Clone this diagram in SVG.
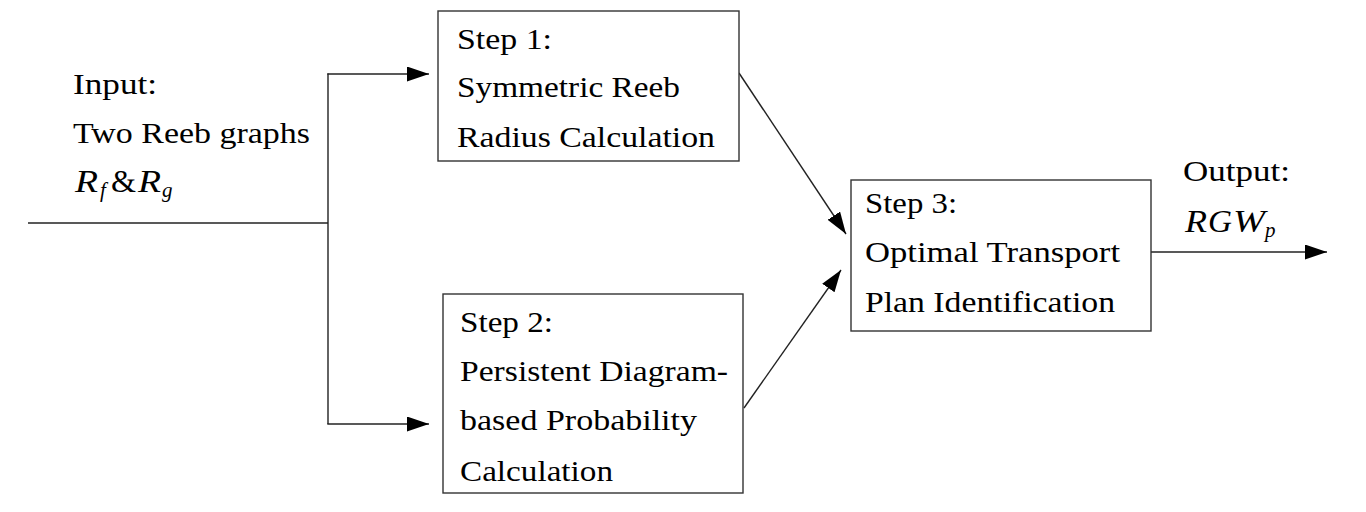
<svg xmlns="http://www.w3.org/2000/svg" width="1366" height="512" viewBox="0 0 1366 512">
<style>
  .t { font-family: "Liberation Serif", "Times New Roman", serif; font-size: 28.5px; fill: #000; }
  .m { font-family: "Liberation Serif", "Times New Roman", serif; font-size: 31px; font-style: italic; fill: #000; }
  .s { font-size: 21px; }
  .box { fill: #fff; stroke: #333; stroke-width: 1.4; }
  .ln { fill: none; stroke: #222; stroke-width: 1.4; }
</style>
<defs>
  <marker id="ah" markerUnits="userSpaceOnUse" markerWidth="24" markerHeight="16" refX="22" refY="7.5" orient="auto">
    <path d="M0,0 L22,7.5 L0,15 Z" fill="#000"/>
  </marker>
</defs>
<rect width="1366" height="512" fill="#fff"/>

<g id="connectors">
  <line class="ln" x1="28" y1="223" x2="328" y2="223"/>
  <line class="ln" x1="328" y1="73.5" x2="328" y2="424"/>
  <line class="ln" x1="327.3" y1="74" x2="429" y2="74" marker-end="url(#ah)"/>
  <line class="ln" x1="327.3" y1="424" x2="429" y2="424" marker-end="url(#ah)"/>
  <line class="ln" x1="739" y1="73" x2="846" y2="234" marker-end="url(#ah)"/>
  <line class="ln" x1="744" y1="408" x2="841" y2="270" marker-end="url(#ah)"/>
  <line class="ln" x1="1151" y1="252" x2="1327" y2="252" marker-end="url(#ah)"/>
</g>

<g id="input">
  <text class="t" x="73" y="94" textLength="84" lengthAdjust="spacingAndGlyphs">Input:</text>
  <text class="t" x="73" y="143" textLength="237" lengthAdjust="spacingAndGlyphs">Two Reeb graphs</text>
  <text class="m" y="192"><tspan x="75" textLength="23" lengthAdjust="spacingAndGlyphs">R</tspan><tspan x="100" dy="5" class="s">f</tspan><tspan x="111" dy="-5" font-style="normal" textLength="25" lengthAdjust="spacingAndGlyphs">&amp;</tspan><tspan x="138" textLength="23" lengthAdjust="spacingAndGlyphs">R</tspan><tspan x="162" dy="5" class="s">g</tspan></text>
</g>

<g id="step1">
  <rect class="box" x="438" y="11" width="301" height="150"/>
  <text class="t" x="457" y="49" textLength="95" lengthAdjust="spacingAndGlyphs">Step 1:</text>
  <text class="t" x="457" y="97" textLength="223" lengthAdjust="spacingAndGlyphs">Symmetric Reeb</text>
  <text class="t" x="457" y="147" textLength="258" lengthAdjust="spacingAndGlyphs">Radius Calculation</text>
</g>

<g id="step2">
  <rect class="box" x="443" y="294" width="300" height="199"/>
  <text class="t" x="460" y="332" textLength="93" lengthAdjust="spacingAndGlyphs">Step 2:</text>
  <text class="t" x="460" y="381" textLength="268" lengthAdjust="spacingAndGlyphs">Persistent Diagram-</text>
  <text class="t" x="460" y="430" textLength="237" lengthAdjust="spacingAndGlyphs">based Probability</text>
  <text class="t" x="460" y="481" textLength="153" lengthAdjust="spacingAndGlyphs">Calculation</text>
</g>

<g id="step3">
  <rect class="box" x="851" y="180" width="300" height="151"/>
  <text class="t" x="865" y="213" textLength="92" lengthAdjust="spacingAndGlyphs">Step 3:</text>
  <text class="t" x="865" y="262" textLength="255" lengthAdjust="spacingAndGlyphs">Optimal Transport</text>
  <text class="t" x="865" y="312" textLength="250" lengthAdjust="spacingAndGlyphs">Plan Identification</text>
</g>

<g id="output">
  <text class="t" x="1183" y="181" textLength="107" lengthAdjust="spacingAndGlyphs">Output:</text>
  <text class="m" y="232"><tspan x="1185" textLength="22" lengthAdjust="spacingAndGlyphs">R</tspan><tspan x="1208" textLength="24" lengthAdjust="spacingAndGlyphs">G</tspan><tspan x="1233" textLength="32" lengthAdjust="spacingAndGlyphs">W</tspan><tspan x="1265" dy="5" class="s">p</tspan></text>
</g>
</svg>
